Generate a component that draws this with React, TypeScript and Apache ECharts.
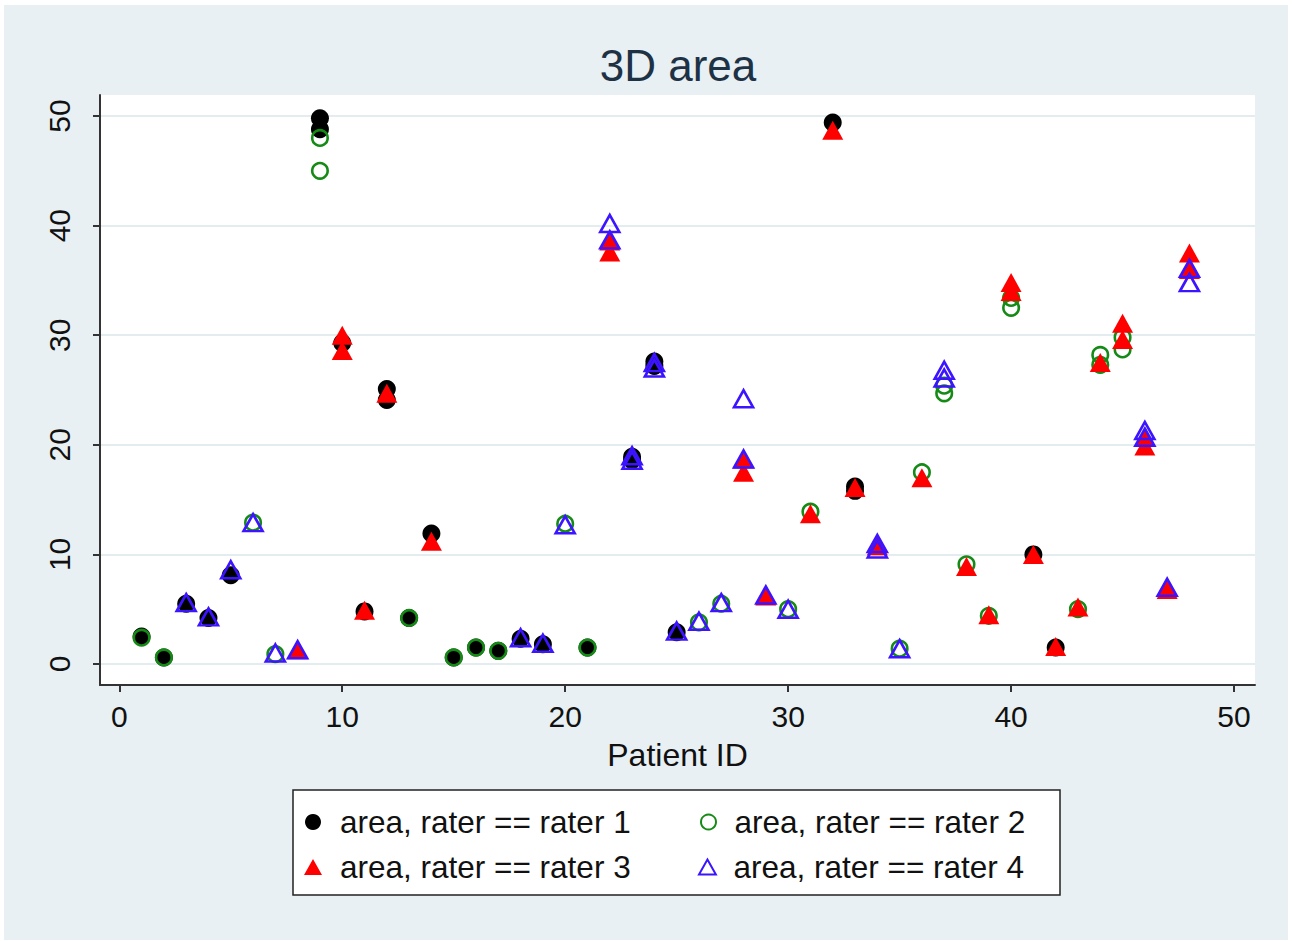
import React, { useEffect, useRef } from "react";
import * as echarts from "echarts";

// ---- data ----
const xTicks = [0, 10, 20, 30, 40, 50];
const yTicks = [0, 10, 20, 30, 40, 50];

const rater1Ids = [1, 2, 3, 4, 5, 9, 9, 10, 11, 12, 12, 13, 14, 15, 16, 17, 18, 19, 21, 23, 23, 24, 24, 25, 32, 33, 33, 41, 42];
const rater1Area = [2.5, 0.6, 5.5, 4.2, 8.1, 49.8, 48.8, 29.3, 4.8, 25.1, 24.1, 4.2, 11.9, 0.6, 1.5, 1.2, 2.3, 1.8, 1.5, 18.9, 18.6, 27.6, 27.2, 2.9, 49.4, 16.2, 15.8, 10.0, 1.5];

const rater2Ids = [1, 2, 6, 7, 9, 9, 13, 15, 16, 17, 20, 21, 26, 27, 30, 31, 35, 36, 37, 37, 38, 39, 40, 40, 43, 44, 44, 45, 45];
const rater2Area = [2.4, 0.6, 12.9, 0.9, 48.0, 45.0, 4.2, 0.6, 1.5, 1.2, 12.8, 1.5, 3.8, 5.5, 5.0, 13.9, 1.4, 17.5, 25.4, 24.7, 9.1, 4.4, 33.4, 32.5, 5.0, 28.2, 27.3, 29.8, 28.7];

const rater3Ids = [8, 10, 10, 11, 12, 14, 22, 22, 28, 28, 29, 31, 32, 33, 34, 36, 38, 39, 40, 40, 41, 42, 43, 44, 45, 45, 46, 46, 47, 48, 48];
const rater3Area = [1.3, 30.0, 28.6, 4.9, 24.7, 11.2, 38.6, 37.6, 18.7, 17.5, 6.2, 13.7, 48.7, 16.1, 10.8, 17.0, 8.9, 4.5, 34.8, 34.0, 10.0, 1.6, 5.2, 27.5, 31.1, 29.6, 20.7, 19.9, 6.8, 37.5, 36.0];

const rater4Ids = [3, 4, 5, 6, 7, 8, 18, 19, 20, 22, 22, 23, 23, 24, 24, 25, 26, 27, 28, 28, 29, 30, 34, 34, 35, 37, 37, 46, 46, 47, 48, 48];
const rater4Area = [5.6, 4.3, 8.6, 12.9, 1.0, 1.3, 2.4, 1.9, 12.7, 40.2, 38.7, 19.0, 18.6, 27.5, 27.0, 3.0, 3.9, 5.6, 24.2, 18.7, 6.3, 5.0, 11.0, 10.5, 1.4, 26.8, 26.1, 21.3, 20.7, 7.0, 36.1, 34.8];

const seriesNames = [
  "area, rater == rater 1",
  "area, rater == rater 2",
  "area, rater == rater 3",
  "area, rater == rater 4",
];

const pairs = (ids: number[], vals: number[]) => ids.map((id, i) => [id, vals[i]]);

const FONT = "'Liberation Sans', Arial, Helvetica, sans-serif";
const GREEN = "#168a16";
const BLUE = "#3c14ff";
const RED = "#ff0000";
const TRI_ICON = "path://M9,0L18,16L0,16Z";

export default function App() {
  const ref = useRef<HTMLDivElement>(null);

  useEffect(() => {
    if (!ref.current) return;
    const chart = echarts.init(ref.current, undefined, { renderer: "svg" });

    const legendBase = {
      orient: "horizontal" as const,
      padding: 0,
      selectedMode: false,
      symbolKeepAspect: true,
      textStyle: { fontSize: 31.5, color: "#111", fontFamily: FONT },
    };

    chart.setOption({
      animation: false,
      backgroundColor: "#ffffff",
      title: {
        text: "3D area",
        left: 673,
        top: 38,
        textAlign: "center",
        textStyle: { fontSize: 44, fontWeight: "normal", color: "#1e3246", fontFamily: FONT },
      },
      graphic: [
        {
          type: "rect",
          z: -100,
          silent: true,
          shape: { x: 4, y: 5, width: 1284, height: 935 },
          style: { fill: "#e8f0f3" },
        },
        {
          type: "rect",
          z: 1,
          silent: true,
          shape: { x: 293, y: 790, width: 767, height: 105 },
          style: { fill: "#ffffff", stroke: "#222", lineWidth: 1.5 },
        },
      ],
      grid: {
        left: 100,
        top: 95,
        width: 1155,
        height: 590,
        show: true,
        backgroundColor: "#ffffff",
        borderWidth: 0,
      },
      xAxis: {
        type: "value",
        min: -0.865,
        max: 50.94,
        name: "Patient ID",
        nameLocation: "middle",
        nameGap: 54,
        nameTextStyle: { fontSize: 32, color: "#111", fontFamily: FONT },
        axisLine: { show: true, onZero: false, lineStyle: { color: "#333", width: 2 } },
        axisTick: { show: true, length: 7, lineStyle: { color: "#333", width: 2 }, customValues: xTicks },
        axisLabel: { customValues: xTicks, fontSize: 30, color: "#111", fontFamily: FONT, margin: 16 },
        splitLine: { show: false },
      },
      yAxis: {
        type: "value",
        min: -1.916,
        max: 51.92,
        axisLine: { show: true, onZero: false, lineStyle: { color: "#333", width: 2 } },
        axisTick: { show: true, length: 7, lineStyle: { color: "#333", width: 2 }, customValues: yTicks },
        axisLabel: { customValues: yTicks, fontSize: 30, color: "#111", fontFamily: FONT, rotate: 90, margin: 26 },
        splitLine: { show: true, lineStyle: { color: "#e3ecef", width: 2 } },
      },
      legend: [
        { ...legendBase, data: [seriesNames[0]], left: 305, top: 806, itemWidth: 44, itemHeight: 16 },
        { ...legendBase, data: [seriesNames[1]], left: 700, top: 806, itemWidth: 42, itemHeight: 15 },
        { ...legendBase, data: [{ name: seriesNames[2], icon: TRI_ICON }], left: 304, top: 851, itemWidth: 44, itemHeight: 16 },
        { ...legendBase, data: [{ name: seriesNames[3], icon: TRI_ICON }], left: 698, top: 851, itemWidth: 42, itemHeight: 15 },
      ],
      series: [
        {
          name: seriesNames[0],
          type: "scatter",
          symbol: "circle",
          symbolSize: 18,
          itemStyle: { color: "#000000", opacity: 1 },
          data: pairs(rater1Ids, rater1Area),
          z: 2,
        },
        {
          name: seriesNames[1],
          type: "scatter",
          symbol: "circle",
          symbolSize: 15.5,
          itemStyle: { color: "rgba(0,0,0,0)", borderColor: GREEN, borderWidth: 2.6, opacity: 1 },
          data: pairs(rater2Ids, rater2Area),
          z: 3,
        },
        {
          name: seriesNames[2],
          type: "scatter",
          symbol: "triangle",
          symbolSize: [21, 19],
          itemStyle: { color: RED, opacity: 1 },
          data: pairs(rater3Ids, rater3Area),
          z: 4,
        },
        {
          name: seriesNames[3],
          type: "scatter",
          symbol: "triangle",
          symbolSize: [19, 17],
          itemStyle: { color: "rgba(0,0,0,0)", borderColor: BLUE, borderWidth: 2.6, opacity: 1 },
          data: pairs(rater4Ids, rater4Area),
          z: 5,
        },
      ],
    });

    return () => chart.dispose();
  }, []);

  return (
    <div
      ref={ref}
      style={{ position: "fixed", left: 0, top: 0, width: 1292, height: 941 }}
    />
  );
}
